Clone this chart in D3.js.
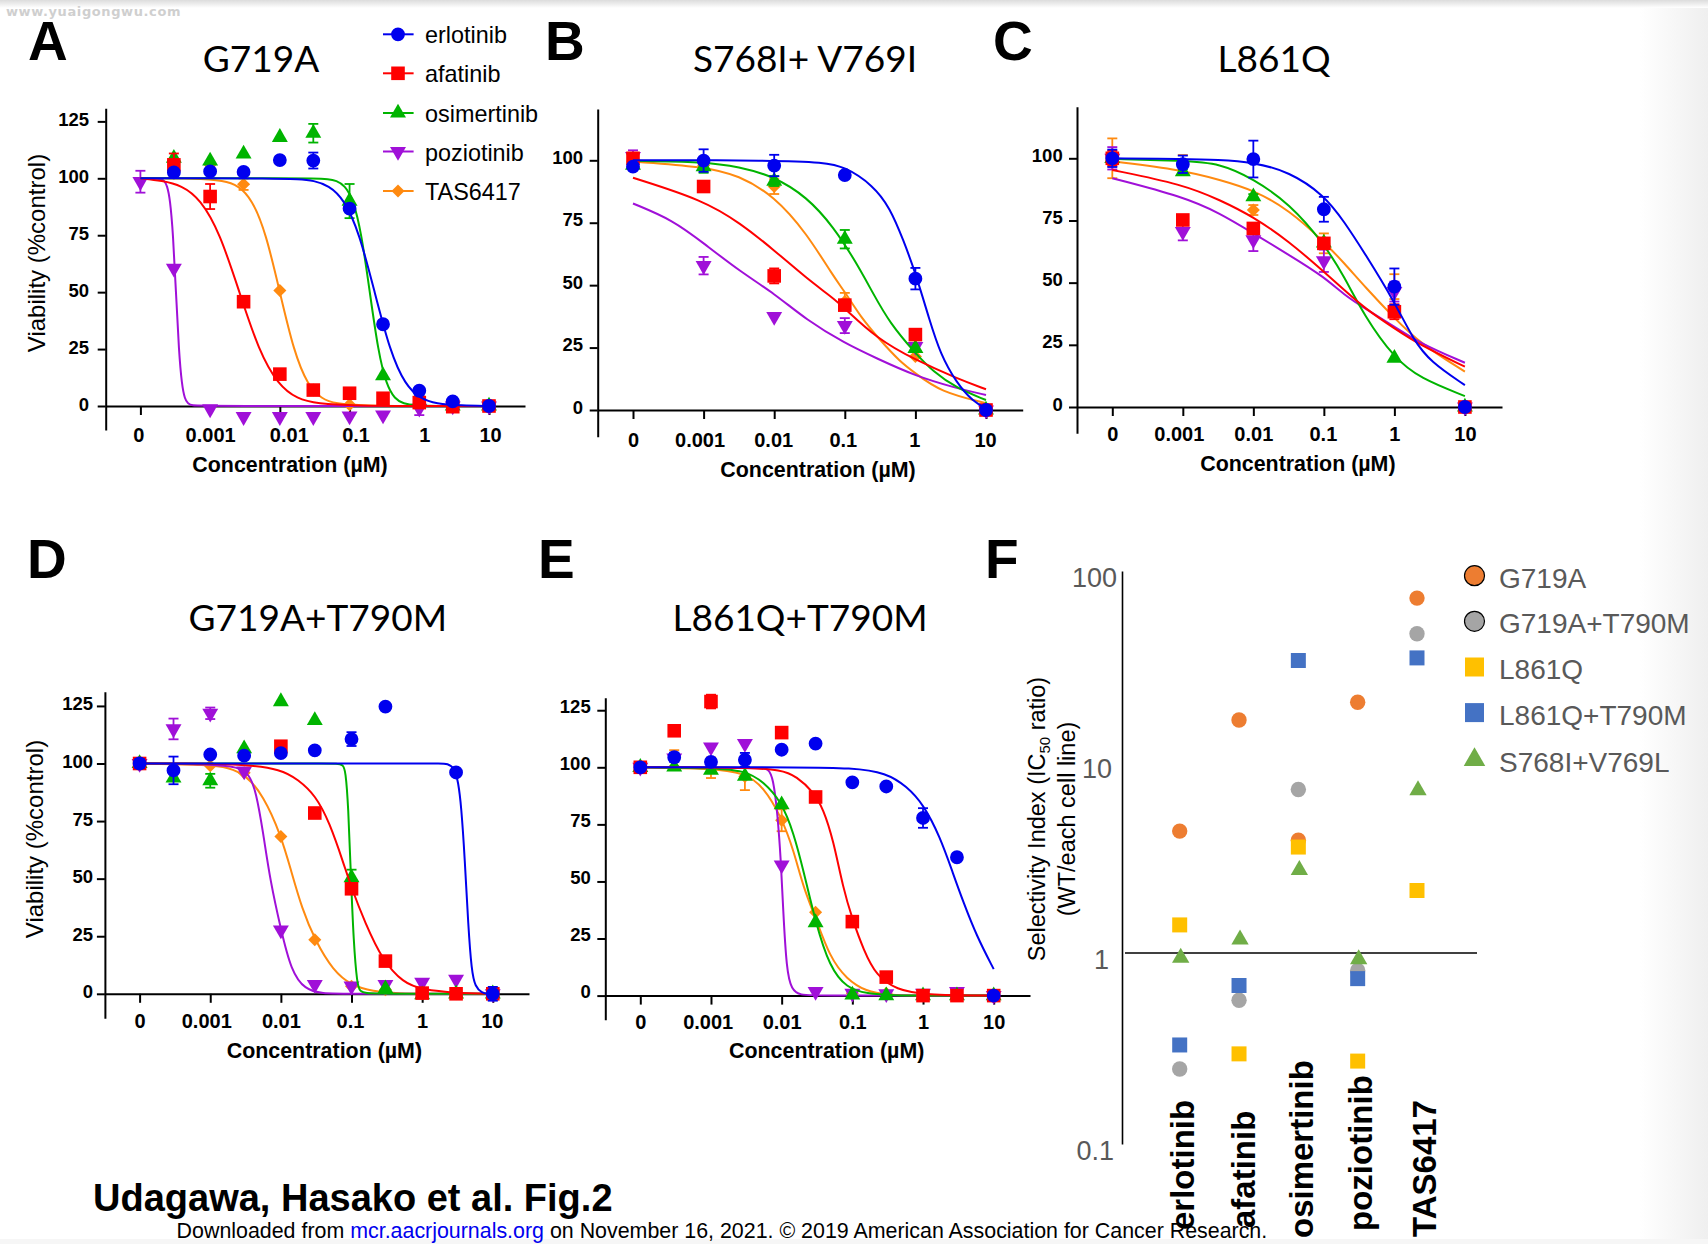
<!DOCTYPE html>
<html>
<head>
<meta charset="utf-8">
<script src="https://cdn.jsdelivr.net/npm/d3@7"></script>
<style>
  html, body { margin: 0; padding: 0; background: #fff; }
  text { font-family: "Liberation Sans", Arial, sans-serif; fill: #000; }
  .tick text { font-weight: bold; }
  .title { font-family: Lato, sans-serif; font-size: 37px; text-anchor: middle; }
  .letter { font-weight: bold; font-size: 55px; }
  .xtitle { font-weight: bold; font-size: 21.4px; text-anchor: middle; }
  .ytitle { font-size: 24px; text-anchor: middle; }
</style>
</head>
<body>
<div id="container"></div>
<script>
// log10 concentration (the "0" dose sits at -4)
const dosesFull = [-4, -3.52, -3, -2.52, -2, -1.52, -1, -0.52, 0, 0.48, 1];
const dosesDecade = [-4, -3, -2, -1, 0, 1];
const xTickValues = [-4, -3, -2, -1, 0, 1];
const xTickLabels = ["0", "0.001", "0.01", "0.1", "1", "10"];
const yTicksTall = [0, 25, 50, 75, 100, 125];
const yTicksShort = [0, 25, 50, 75, 100];
const drugs = ["erlotinib", "afatinib", "osimertinib", "poziotinib", "TAS6417"];

// panel A, G719A
const aErl = [null, 102.6, 103, 102.8, 108, 107.8, 86.7, 35.9, 6.7, 2, 0];
const aErlErr = [0, 0, 0, 0, 0, 3.5, 0, 0, 0, 0, 0];
const aErlCurve = [[-4,100],[-3,100],[-2.2,100],[-1.7,99.6],[-1.52,99],[-1.3,96.9],[-1.08,90.9],[-0.86,76],[-0.64,50],[-0.42,24],[-0.2,9.1],[0.02,3.1],[0.24,1],[0.6,0.2],[1,0]];
const aAfa = [null, 105.9, 92, 45.8, 14, 7, 5.6, 3.4, 1.5, -0.3, 0];
const aAfaErr = [0, 5, 5.5, 1.5, 0, 0, 0, 0, 0, 0, 0];
const aAfaCurve = [[-4,100],[-3.69,99],[-3.41,96.9],[-3.14,90.9],[-2.86,76],[-2.58,50],[-2.3,24],[-2.02,9.1],[-1.75,3.1],[-1.47,1],[-0.9,0.1],[0,0],[1,0]];
const aOsi = [null, 108.8, 107.6, 110.7, 118, 119.8, 90, 13.3, 1.9, 0, 0];
const aOsiErr = [0, 0, 0, 0, 0, 4.1, 7.5, 0, 2.5, 0, 0];
const aOsiCurve = [[-4,100],[-3,100],[-2,100],[-1.5,100],[-1.3,99.7],[-1.19,99],[-1.07,96.9],[-0.95,90.9],[-0.83,76],[-0.71,50],[-0.59,24],[-0.47,9.1],[-0.35,3.1],[-0.23,1],[-0.05,0.2],[0.2,0],[1,0]];
const aPoz = [98.5, 60.5, -1.3, -4.7, -4.7, -4.7, -4.4, -4, -1, 0, 0];
const aPozErr = [4.8, 0, 0, 0, 0, 0, 0, 0, 3, 0, 0];
const aPozCurve = [[-4,100],[-3.8,100],[-3.7,99.6],[-3.66,99],[-3.617,96.9],[-3.575,90.9],[-3.532,76],[-3.49,50],[-3.448,24],[-3.405,9.1],[-3.363,3.1],[-3.32,1],[-3.25,0.2],[-3.15,0],[1,0]];
const aTas = [null, 107, 106, 97.4, 50.7, 7, 0.6, null, null, null, null];
const aTasErr = [0, 0, 0, 2.5, 0, 0, 0, 0, 0, 0, 0];
const aTasCurve = [[-4,100],[-3.2,100],[-2.8,99],[-2.6,96.9],[-2.4,90.9],[-2.2,76],[-2,50],[-1.8,24],[-1.6,9.1],[-1.4,3.1],[-1.2,1],[-0.8,0.1],[0,0],[1,0]];

// panel B, S768I+V769I
const bErl = [97.5, 99.9, 97.9, 94.1, 52.6, 0];
const bErlErr = [0, 4.5, 4.3, 0, 4.3, 0];
const bErlCurve = [[-4,100],[-2,100],[-1.3,99.2],[-1,97.5],[-0.6,90],[-0.36,81],[-0.17,68],[0,55],[0.2,36],[0.35,22.7],[0.585,10.7],[0.82,3.3],[1,0.7]];
const bAfa = [100.8, 89.5, 53.7, 42, 30.2, 0];
const bAfaErr = [2, 2, 3, 0, 0, 0];
const bAfaCurve = [[-4,93],[-3,84],[-2.48,74.8],[-2,64],[-1.54,52.7],[-1.16,44.7],[-1,40.7],[-0.55,28.7],[0,20],[0.585,12.7],[1,8.3]];
const bOsi = [98.1, 97.5, 91.7, 68.4, 24.7, 0];
const bOsiErr = [0, 2.5, 2, 3.7, 0, 0];
const bOsiCurve = [[-4,99.8],[-3,99.4],[-2.5,97.5],[-2,93.5],[-1.54,85.4],[-1.16,73.4],[-0.83,58.7],[-0.6,46.7],[-0.36,34.7],[0,22.7],[0.25,15.4],[0.585,8.7],[1,4]];
const bPoz = [101.5, 57.8, 37.4, 33.8, 25.4, 0];
const bPozErr = [2.5, 3.5, 0, 3, 0, 0];
const bPozCurve = [[-4,82.7],[-3.43,76],[-3,66.8],[-2.48,55.4],[-2,46.7],[-1.54,36],[-1,26.7],[-0.55,20.7],[0,13.6],[0.585,8.7],[1,6]];
const bTas = [99.5, 98, 89.5, 43.4, 21.4, 0];
const bTasErr = [1, 0, 3, 3.5, 0, 0];
const bTasCurve = [[-4,99.5],[-3,97.5],[-2.5,94],[-2,85.7],[-1.54,70.8],[-1.16,53.4],[-1,47.4],[-0.78,37.4],[-0.5,28],[-0.22,19.4],[0,14.7],[0.35,7.3],[1,2.7]];

// panel C, L861Q
const cErl = [100, 97.6, 99.7, 79.5, 48.4, 0];
const cErlErr = [3.5, 3.5, 7.4, 5, 7.3, 0];
const cErlCurve = [[-4,100],[-3,99.7],[-2.5,99.4],[-2,98.4],[-1.49,94.6],[-1,85.3],[-0.71,74.5],[-0.42,61.8],[0,42.4],[0.27,27],[0.51,18.2],[1,8.8]];
const cAfa = [100, 75.2, 71.8, 65.8, 38.3, 0];
const cAfaErr = [3, 1.5, 1.5, 2, 3, 0];
const cAfaCurve = [[-4,95.3],[-3,89.5],[-2.47,83.2],[-2,76.5],[-1.49,66.5],[-1,54.4],[-0.71,47],[-0.42,39.7],[0,31.6],[0.365,24.9],[1,16.2]];
const cOsi = [100, 94.6, 84.6, 66, 19.6, 0];
const cOsiErr = [0, 1, 1, 2, 0, 0];
const cOsiCurve = [[-4,99.8],[-3,99],[-2.47,98],[-2,91.7],[-1.49,81.9],[-1,65.8],[-0.71,52.4],[-0.42,36.3],[0,19.6],[0.365,11.5],[1,4.4]];
const cPoz = [100, 70.5, 67.2, 58.8, 46.4, 0];
const cPozErr = [4.5, 3.5, 4.5, 4.5, 4, 0];
const cPozCurve = [[-4,92],[-3,84.6],[-2.47,77.9],[-2,69.8],[-1.49,61.1],[-1,52.4],[-0.71,45],[-0.42,39.7],[0,32.3],[0.365,25.6],[1,17.8]];
const cTas = [100, 97.3, 79.2, 65.8, 48.4, 0];
const cTasErr = [8, 4, 2, 4, 5, 0];
const cTasCurve = [[-4,98.8],[-3,95.3],[-2.47,91.3],[-2,87.3],[-1.49,79.2],[-1,66.5],[-0.71,57.8],[-0.42,48.4],[0,35.7],[0.365,25.6],[1,14.2]];

// panel D, G719A+T790M
const dErl = [100, 97, 103.9, 103.4, 104.5, 105.7, 110.6, 124.7, null, 96.1, 0];
const dErlErr = [2, 6, 0, 0, 0, 0, 3, 0, 0, 0, 3];
const dErlCurve = [[-4,100],[-3,100],[-2,100],[-1,100],[0,100],[0.25,100],[0.36,100],[0.46,98],[0.51,92],[0.553,81.8],[0.603,59],[0.653,29],[0.7,10],[0.75,3],[0.851,0.3],[0.92,0],[1,0]];
const dAfa = [100, null, null, null, 107.5, 78.5, 45.6, 14.2, 0.3, 0, 0];
const dAfaErr = [2, 0, 0, 0, 0, 0, 0, 0, 0, 0, 0];
const dAfaCurve = [[-4,100],[-3,100],[-2.5,99.5],[-2,97.5],[-1.755,93],[-1.51,86.2],[-1.31,74.3],[-1.11,56.4],[-1,45.9],[-0.81,31],[-0.56,14.5],[-0.27,4.8],[0,1.8],[0.48,0.3],[1,0]];
const dOsi = [100, 93.7, 92.5, 106.4, 126.9, 118.7, 50.4, 2.2, -0.4, 0, 0];
const dOsiErr = [0, 0, 3, 0, 0, 0, 3.5, 0, 0, 0, 0];
const dOsiCurve = [[-4,100],[-3,100],[-2,100],[-1.4,100],[-1.2,100],[-1.12,99.5],[-1.085,97],[-1.046,81.8],[-1.01,51.9],[-0.97,22],[-0.92,4],[-0.88,1],[-0.8,0.2],[-0.6,0],[1,0]];
const dPoz = [100, 115, 121.8, 96.7, 27.7, 4, 3.3, 4, 5, 6.3, 0];
const dPozErr = [0, 4.5, 2.5, 0, 0, 0, 0, 0, 0, 0, 0];
const dPozCurve = [[-4,100],[-3,99.7],[-2.6,98.5],[-2.45,95.5],[-2.35,87.7],[-2.25,69.8],[-2.15,48.9],[-2,28],[-1.855,10],[-1.66,1.8],[-1.41,0.1],[-1.1,0],[1,0]];
const dTas = [100, null, 99, 96, 68.3, 23.5, 3.3, 1.8, 0, 0, 0];
const dTasErr = [0, 0, 0, 0, 0, 0, 0, 0, 0, 0, 0];
const dTasCurve = [[-4,100],[-3,99.4],[-2.75,98.2],[-2.5,95.2],[-2.25,86.2],[-2,69],[-1.855,53.4],[-1.7,36.9],[-1.52,23.5],[-1.26,10],[-1,3.7],[-0.71,1],[-0.3,0.1],[0,0],[1,0]];

// panel E, L861Q+T790M
const eErl = [100, 104.4, 102.4, 103.3, 107.7, 110.4, 93.4, 91.6, 77.8, 60.6, 0];
const eErlErr = [0, 2, 0, 3, 0, 0, 0, 0, 4.3, 0, 0];
const eErlCurve = [[-4,100],[-3,100],[-1.79,100],[-1,99.8],[-0.52,97.6],[-0.23,91.6],[0,84],[0.24,69.7],[0.43,53],[0.57,41],[0.76,26],[1,11.6]];
const eAfa = [100, 116, 128.8, null, 115.2, 87, 32.4, 8.1, 0, 0, 0];
const eAfaErr = [0, 0, 3, 0, 0, 0, 0, 0, 0, 0, 0];
const eAfaCurve = [[-4,100],[-3,100],[-2.52,99.8],[-2,99],[-1.79,96],[-1.55,89.3],[-1.41,81.7],[-1.27,68.2],[-1.13,47],[-1,33.5],[-0.84,19.9],[-0.66,8.6],[-0.37,2.6],[0,0.3],[1,0]];
const eOsi = [100, 100.2, 98.8, 96.1, 83.6, 32, 0.3, 0, 0, 0, 0];
const eOsiErr = [0, 0, 0, 0, 0, 0, 0, 0, 0, 0, 0];
const eOsiCurve = [[-4,100],[-3,99.8],[-2.52,98.6],[-2.26,93.8],[-2,84.8],[-1.83,71.2],[-1.69,54.6],[-1.52,32],[-1.32,12.4],[-1.08,3.3],[-0.8,0.8],[-0.4,0.1],[0,0],[1,0]];
const ePoz = [100, 104, 108.9, 110.4, 57.2, 1.8, 1, 0.8, 1, 1.8, 0];
const ePozErr = [0, 0, 0, 0, 0, 0, 0, 0, 0, 0, 0];
const ePozCurve = [[-4,100],[-3,100],[-2.52,99.8],[-2.3,99.7],[-2.19,99.5],[-2.12,95.3],[-2.06,80.2],[-2.01,59],[-1.98,38],[-1.93,10.9],[-1.86,2.6],[-1.74,0.15],[-1.5,0],[1,0]];
const eTas = [100, 104, 99.8, 96, 76.8, 36.5, 1, 1, null, null, null];
const eTasErr = [0, 3.5, 4.5, 6, 4.8, 0, 0, 0, 0, 0, 0];
const eTasCurve = [[-4,100],[-3,99.5],[-2.52,97.6],[-2.26,91.6],[-2,78],[-1.83,63.6],[-1.69,47],[-1.52,34.2],[-1.32,16.9],[-1.08,7.1],[-0.8,1.8],[-0.52,0.3],[0,0],[1,0]];

// panel F, selectivity index
const fG719A = [4.4, 16.8, 3.94, 20.8, 73];
const fG719AT790M = [0.25, 0.573, 7.26, 0.82, 47.5];
const fL861Q = [1.42, 0.3, 3.63, 0.275, 2.15];
const fL861QT790M = [0.334, 0.684, 34.4, 0.743, 35.5];
const fS768IV769L = [0.957, 1.19, 2.75, 0.94, 7.2];
const fLegend = ["G719A", "G719A+T790M", "L861Q", "L861Q+T790M", "S768I+V769L"];
const fTicks = [100, 10, 1, 0.1];
const fTickLabels = ["100", "10", "1", "0.1"];

// styling
const drugColors = ["#0000ee", "#ff0000", "#00b400", "#a010d8", "#ff8a10"];
const mutColors = ["#ed7d31", "#a5a5a5", "#ffc000", "#4472c4", "#70ad47"];
const mutShapes = ["circle", "circle", "square", "square", "triangle"];

const svg = d3.select("#container").append("svg").attr("width", 1708).attr("height", 1244);
const defs = svg.append("defs");
const edge = defs.append("linearGradient").attr("id", "edge");
edge.append("stop").attr("offset", 0).attr("stop-color", "#fff");
edge.append("stop").attr("offset", 1).attr("stop-color", "#efefef");
const topEdge = defs.append("linearGradient").attr("id", "topEdge").attr("x1", 0).attr("x2", 0).attr("y1", 0).attr("y2", 1);
topEdge.append("stop").attr("offset", 0).attr("stop-color", "#dcdcdc");
topEdge.append("stop").attr("offset", 1).attr("stop-color", "#fff");

svg.append("rect").attr("x", 1640).attr("width", 68).attr("height", 1244).attr("fill", "url(#edge)");
svg.append("rect").attr("y", 1239).attr("width", 1708).attr("height", 5).attr("fill", "#f6f6f6");
svg.append("rect").attr("width", 1708).attr("height", 8).attr("fill", "url(#topEdge)");
svg.append("text").text("www.yuaigongwu.com").attr("x", 6).attr("y", 16)
  .style("font-family", "DejaVu Sans").style("font-weight", "bold").style("font-size", "13px")
  .style("letter-spacing", "0.6px").style("fill", "#cfcfcf");

function marker(sel, i) {
  // i follows the drugs order
  const shape = i == 0 ? d3.symbolCircle : i == 1 ? d3.symbolSquare : i == 4 ? d3.symbolSquare : d3.symbolTriangle;
  const area = [150, 185, 110, 110, 85][i];
  const rot = i == 3 ? 180 : i == 4 ? 45 : 0;
  sel.attr("d", d3.symbol().type(shape).size(area)())
    .attr("fill", drugColors[i])
    .attr("transform", function () {
      return `${d3.select(this).attr("data-pos")} rotate(${rot})`;
    });
}

function drawPanel(p) {
  const x = d3.scaleLinear().domain([-4, 1]).range([p.x0, p.x1]);
  const y = d3.scaleLinear().domain([0, 100]).range([p.y0, p.y100]);
  const g = svg.append("g");

  const xFull = x.copy().domain([x.invert(p.spine), x.invert(p.end)]).range([p.spine, p.end]);
  const yFull = y.copy().domain([y.invert(p.bottom), y.invert(p.top)]).range([p.bottom, p.top]);

  const xAxis = g.append("g").attr("transform", `translate(0,${p.y0})`)
    .call(d3.axisBottom(xFull).tickValues(xTickValues).tickSize(9).tickSizeOuter(0)
      .tickFormat((d, i) => xTickLabels[i]));
  xAxis.selectAll("text").attr("dy", null).attr("y", p.xLabelY - p.y0)
    .attr("dx", (d, i) => p.xNudge[i]).style("font-size", "20px");

  const yAxis = g.append("g").attr("transform", `translate(${p.spine},0)`)
    .call(d3.axisLeft(yFull).tickValues(p.yTicks).tickSize(8).tickSizeOuter(0));
  yAxis.selectAll("text").attr("dy", p.yLabelDy).attr("x", p.yLabelX - p.spine).style("font-size", "18.5px");

  g.selectAll(".domain, .tick line").attr("stroke", "#000").attr("stroke-width", 2);

  const line = d3.line().x((d) => x(d[0])).y((d) => y(d[1])).curve(d3.curveBasis);

  // orange first, blue ends on top
  p.series.forEach((s) => {
    const i = s.drug;
    const c = drugColors[i];
    const rows = p.doses.map((d, k) => ({ dose: d, v: s.mean[k], e: s.err[k] })).filter((r) => r.v !== null);

    g.append("path").datum(s.curve).attr("fill", "none").attr("stroke", c).attr("stroke-width", 2).attr("d", line);

    const bars = g.append("g").attr("stroke", c).attr("stroke-width", 1.8);
    rows.filter((r) => r.e > 0).forEach((r) => {
      const cx = x(r.dose);
      bars.append("line").attr("x1", cx).attr("x2", cx).attr("y1", y(r.v - r.e)).attr("y2", y(r.v + r.e));
      [r.v - r.e, r.v + r.e].forEach((v) => {
        bars.append("line").attr("x1", cx - 5).attr("x2", cx + 5).attr("y1", y(v)).attr("y2", y(v));
      });
    });

    g.append("g").selectAll("path").data(rows).join("path")
      .attr("data-pos", (r) => `translate(${x(r.dose)},${y(r.v)})`)
      .call(marker, i);
  });

  svg.append("text").attr("class", "letter").text(p.letter).attr("x", p.letterX).attr("y", p.letterY);
  svg.append("text").attr("class", "title").text(p.title).attr("x", p.titleX).attr("y", p.titleY);
  svg.append("text").attr("class", "xtitle").text("Concentration (µM)").attr("x", p.xTitleX).attr("y", p.xTitleY);
  if (p.yTitleY) {
    svg.append("text").attr("class", "ytitle").text("Viability (%control)")
      .attr("transform", `translate(${p.yTitleX},${p.yTitleY}) rotate(-90)`);
  }
}

drawPanel({
  letter: "A", letterX: 28, letterY: 60, title: "G719A", titleX: 261, titleY: 71.7,
  x0: 140.4, x1: 489, y0: 406, y100: 178.3, spine: 105.7, end: 525, top: 108.3, bottom: 430,
  yTicks: yTicksTall, yLabelX: 89, yLabelDy: 4.5, xLabelY: 441.7, xNudge: [-2, 0, 9, 6, 5, 1],
  xTitleX: 290, xTitleY: 471.7, yTitleX: 45, yTitleY: 253, doses: dosesFull,
  series: [
    { drug: 4, mean: aTas, err: aTasErr, curve: aTasCurve },
    { drug: 3, mean: aPoz, err: aPozErr, curve: aPozCurve },
    { drug: 2, mean: aOsi, err: aOsiErr, curve: aOsiCurve },
    { drug: 1, mean: aAfa, err: aAfaErr, curve: aAfaCurve },
    { drug: 0, mean: aErl, err: aErlErr, curve: aErlCurve },
  ],
});

drawPanel({
  letter: "B", letterX: 545, letterY: 60, title: "S768I+ V769I", titleX: 805, titleY: 71.7,
  x0: 633, x1: 986, y0: 410, y100: 160.3, spine: 597.7, end: 1022.7, top: 109, bottom: 436.7,
  yTicks: yTicksShort, yLabelX: 583, yLabelDy: 3, xLabelY: 446.7, xNudge: [0, -4, -1, -2, -1, -1],
  xTitleX: 818, xTitleY: 477.3, doses: dosesDecade,
  series: [
    { drug: 4, mean: bTas, err: bTasErr, curve: bTasCurve },
    { drug: 3, mean: bPoz, err: bPozErr, curve: bPozCurve },
    { drug: 2, mean: bOsi, err: bOsiErr, curve: bOsiCurve },
    { drug: 1, mean: bAfa, err: bAfaErr, curve: bAfaCurve },
    { drug: 0, mean: bErl, err: bErlErr, curve: bErlCurve },
  ],
});

drawPanel({
  letter: "C", letterX: 993, letterY: 60, title: "L861Q", titleX: 1274, titleY: 71.7,
  x0: 1112.3, x1: 1464.9, y0: 407, y100: 158.3, spine: 1077, end: 1502, top: 106.7, bottom: 433.3,
  yTicks: yTicksShort, yLabelX: 1062.7, yLabelDy: 3, xLabelY: 440.7, xNudge: [0, -4, 0, -1, 0, 0],
  xTitleX: 1297.9, xTitleY: 470.7, doses: dosesDecade,
  series: [
    { drug: 4, mean: cTas, err: cTasErr, curve: cTasCurve },
    { drug: 3, mean: cPoz, err: cPozErr, curve: cPozCurve },
    { drug: 2, mean: cOsi, err: cOsiErr, curve: cOsiCurve },
    { drug: 1, mean: cAfa, err: cAfaErr, curve: cAfaCurve },
    { drug: 0, mean: cErl, err: cErlErr, curve: cErlCurve },
  ],
});

drawPanel({
  letter: "D", letterX: 27, letterY: 578, title: "G719A+T790M", titleX: 317.8, titleY: 630.6,
  x0: 139.6, x1: 492.8, y0: 993.8, y100: 763.5, spine: 104.9, end: 529, top: 691.8, bottom: 1018.3,
  yTicks: yTicksTall, yLabelX: 93, yLabelDy: 4, xLabelY: 1027.6, xNudge: [0, -4, 0, -1.5, 0, -1],
  xTitleX: 324.4, xTitleY: 1058, yTitleX: 42.8, yTitleY: 839, doses: dosesFull,
  series: [
    { drug: 4, mean: dTas, err: dTasErr, curve: dTasCurve },
    { drug: 3, mean: dPoz, err: dPozErr, curve: dPozCurve },
    { drug: 2, mean: dOsi, err: dOsiErr, curve: dOsiCurve },
    { drug: 1, mean: dAfa, err: dAfaErr, curve: dAfaCurve },
    { drug: 0, mean: dErl, err: dErlErr, curve: dErlCurve },
  ],
});

drawPanel({
  letter: "E", letterX: 538, letterY: 578, title: "L861Q+T790M", titleX: 800, titleY: 630.6,
  x0: 640.3, x1: 993.7, y0: 995.6, y100: 767.3, spine: 605.3, end: 1030, top: 697.7, bottom: 1019.7,
  yTicks: yTicksTall, yLabelX: 590.7, yLabelDy: 2, xLabelY: 1029.3, xNudge: [0, -3.3, 0, 0, 0, 0],
  xTitleX: 826.7, xTitleY: 1058, doses: dosesFull,
  series: [
    { drug: 4, mean: eTas, err: eTasErr, curve: eTasCurve },
    { drug: 3, mean: ePoz, err: ePozErr, curve: ePozCurve },
    { drug: 2, mean: eOsi, err: eOsiErr, curve: eOsiCurve },
    { drug: 1, mean: eAfa, err: eAfaErr, curve: eAfaCurve },
    { drug: 0, mean: eErl, err: eErlErr, curve: eErlCurve },
  ],
});

// drug legend next to panel A
const legendRows = [34.3, 73.3, 113, 151.5, 191];
drugs.forEach((name, i) => {
  const ly = legendRows[i];
  svg.append("line").attr("x1", 383).attr("x2", 413.6).attr("y1", ly).attr("y2", ly)
    .attr("stroke", drugColors[i]).attr("stroke-width", 2);
  svg.append("path").attr("data-pos", `translate(398,${ly})`).call(marker, i);
  svg.append("text").text(name).attr("x", 425).attr("y", ly + 9).style("font-size", "23.4px");
});

// panel F
const fx = d3.scalePoint().domain(drugs).range([1179.7, 1417]);
const fy = d3.scaleLog().domain([0.1, 100]).range([1144, 571]);

function mutMarker(sel, shape, color, big) {
  const area = shape == "circle" ? (big ? 314 : 186) : shape == "square" ? (big ? 361 : 225) : (big ? 200 : 130);
  const type = shape == "circle" ? d3.symbolCircle : shape == "square" ? d3.symbolSquare : d3.symbolTriangle;
  sel.attr("d", d3.symbol().type(type).size(area)()).attr("fill", color);
}

svg.append("text").text("F").attr("class", "letter").attr("x", 985).attr("y", 577.5);

const fAxis = svg.append("g").attr("transform", "translate(1122,0)")
  .call(d3.axisLeft(fy).tickValues(fTicks).tickSize(0).tickSizeOuter(0)
    .tickFormat((d, i) => fTickLabels[i]));
fAxis.select(".domain").attr("stroke", "#000").attr("stroke-width", 1.6);
const fLabelX = [-5, -10, -13, -8];
fAxis.selectAll("text").attr("x", (d, i) => fLabelX[i]).attr("dy", 15)
  .style("font-weight", "normal").style("font-size", "27px").style("fill", "#595959");

svg.append("line").attr("x1", 1125).attr("x2", 1477).attr("y1", fy(1)).attr("y2", fy(1))
  .attr("stroke", "#000").attr("stroke-width", 1.6);

const fValues = [fG719A, fG719AT790M, fL861Q, fL861QT790M, fS768IV769L];
fValues.forEach((vals, m) => {
  svg.append("g").selectAll("path").data(vals).join("path")
    .call(mutMarker, mutShapes[m], mutColors[m], false)
    .attr("transform", (v, i) => `translate(${fx(drugs[i]) + (m == 4 ? 1 : 0)},${fy(v) + 1})`);
});

const fLegendRows = [575.7, 621.3, 667, 712.6, 759.7];
fLegend.forEach((name, m) => {
  const mark = svg.append("path").call(mutMarker, mutShapes[m], mutColors[m], true)
    .attr("transform", `translate(1474.5,${fLegendRows[m]})`);
  if (mutShapes[m] == "circle") mark.attr("stroke", "#000").attr("stroke-width", 1.2);
  svg.append("text").text(name).attr("x", 1499).attr("y", fLegendRows[m] + 12)
    .style("font-size", "28px").style("fill", "#595959");
});

const selTitle = svg.append("text").attr("transform", "translate(1045,819) rotate(-90)")
  .attr("text-anchor", "middle").style("font-size", "23.5px");
selTitle.append("tspan").text("Selectivity Index (IC");
selTitle.append("tspan").text("50").attr("dy", 5).style("font-size", "15px");
selTitle.append("tspan").text(" ratio)").attr("dy", -5);
svg.append("text").text("(WT/each cell line)").attr("transform", "translate(1074.5,819) rotate(-90)")
  .attr("text-anchor", "middle").style("font-size", "23.5px");

// footer goes under the rotated drug names
svg.append("text").text("Udagawa, Hasako et al. Fig.2").attr("x", 93).attr("y", 1210.7)
  .style("font-weight", "bold").style("font-size", "38px");
const foot = svg.append("text").attr("x", 176.6).attr("y", 1237.7).style("font-size", "21.4px");
foot.append("tspan").text("Downloaded from ");
foot.append("tspan").text("mcr.aacrjournals.org").style("fill", "#0000ee");
foot.append("tspan").text(" on November 16, 2021. © 2019 American Association for Cancer Research.");

const catBaseX = [1194, 1255, 1313, 1372, 1435.6];
const catStartY = [1230, 1228, 1238, 1231, 1237];
drugs.forEach((name, i) => {
  svg.append("text").text(name)
    .attr("transform", `translate(${catBaseX[i]},${catStartY[i]}) rotate(-90)`)
    .style("font-weight", "bold").style("font-size", "33px");
});
</script>
</body>
</html>
